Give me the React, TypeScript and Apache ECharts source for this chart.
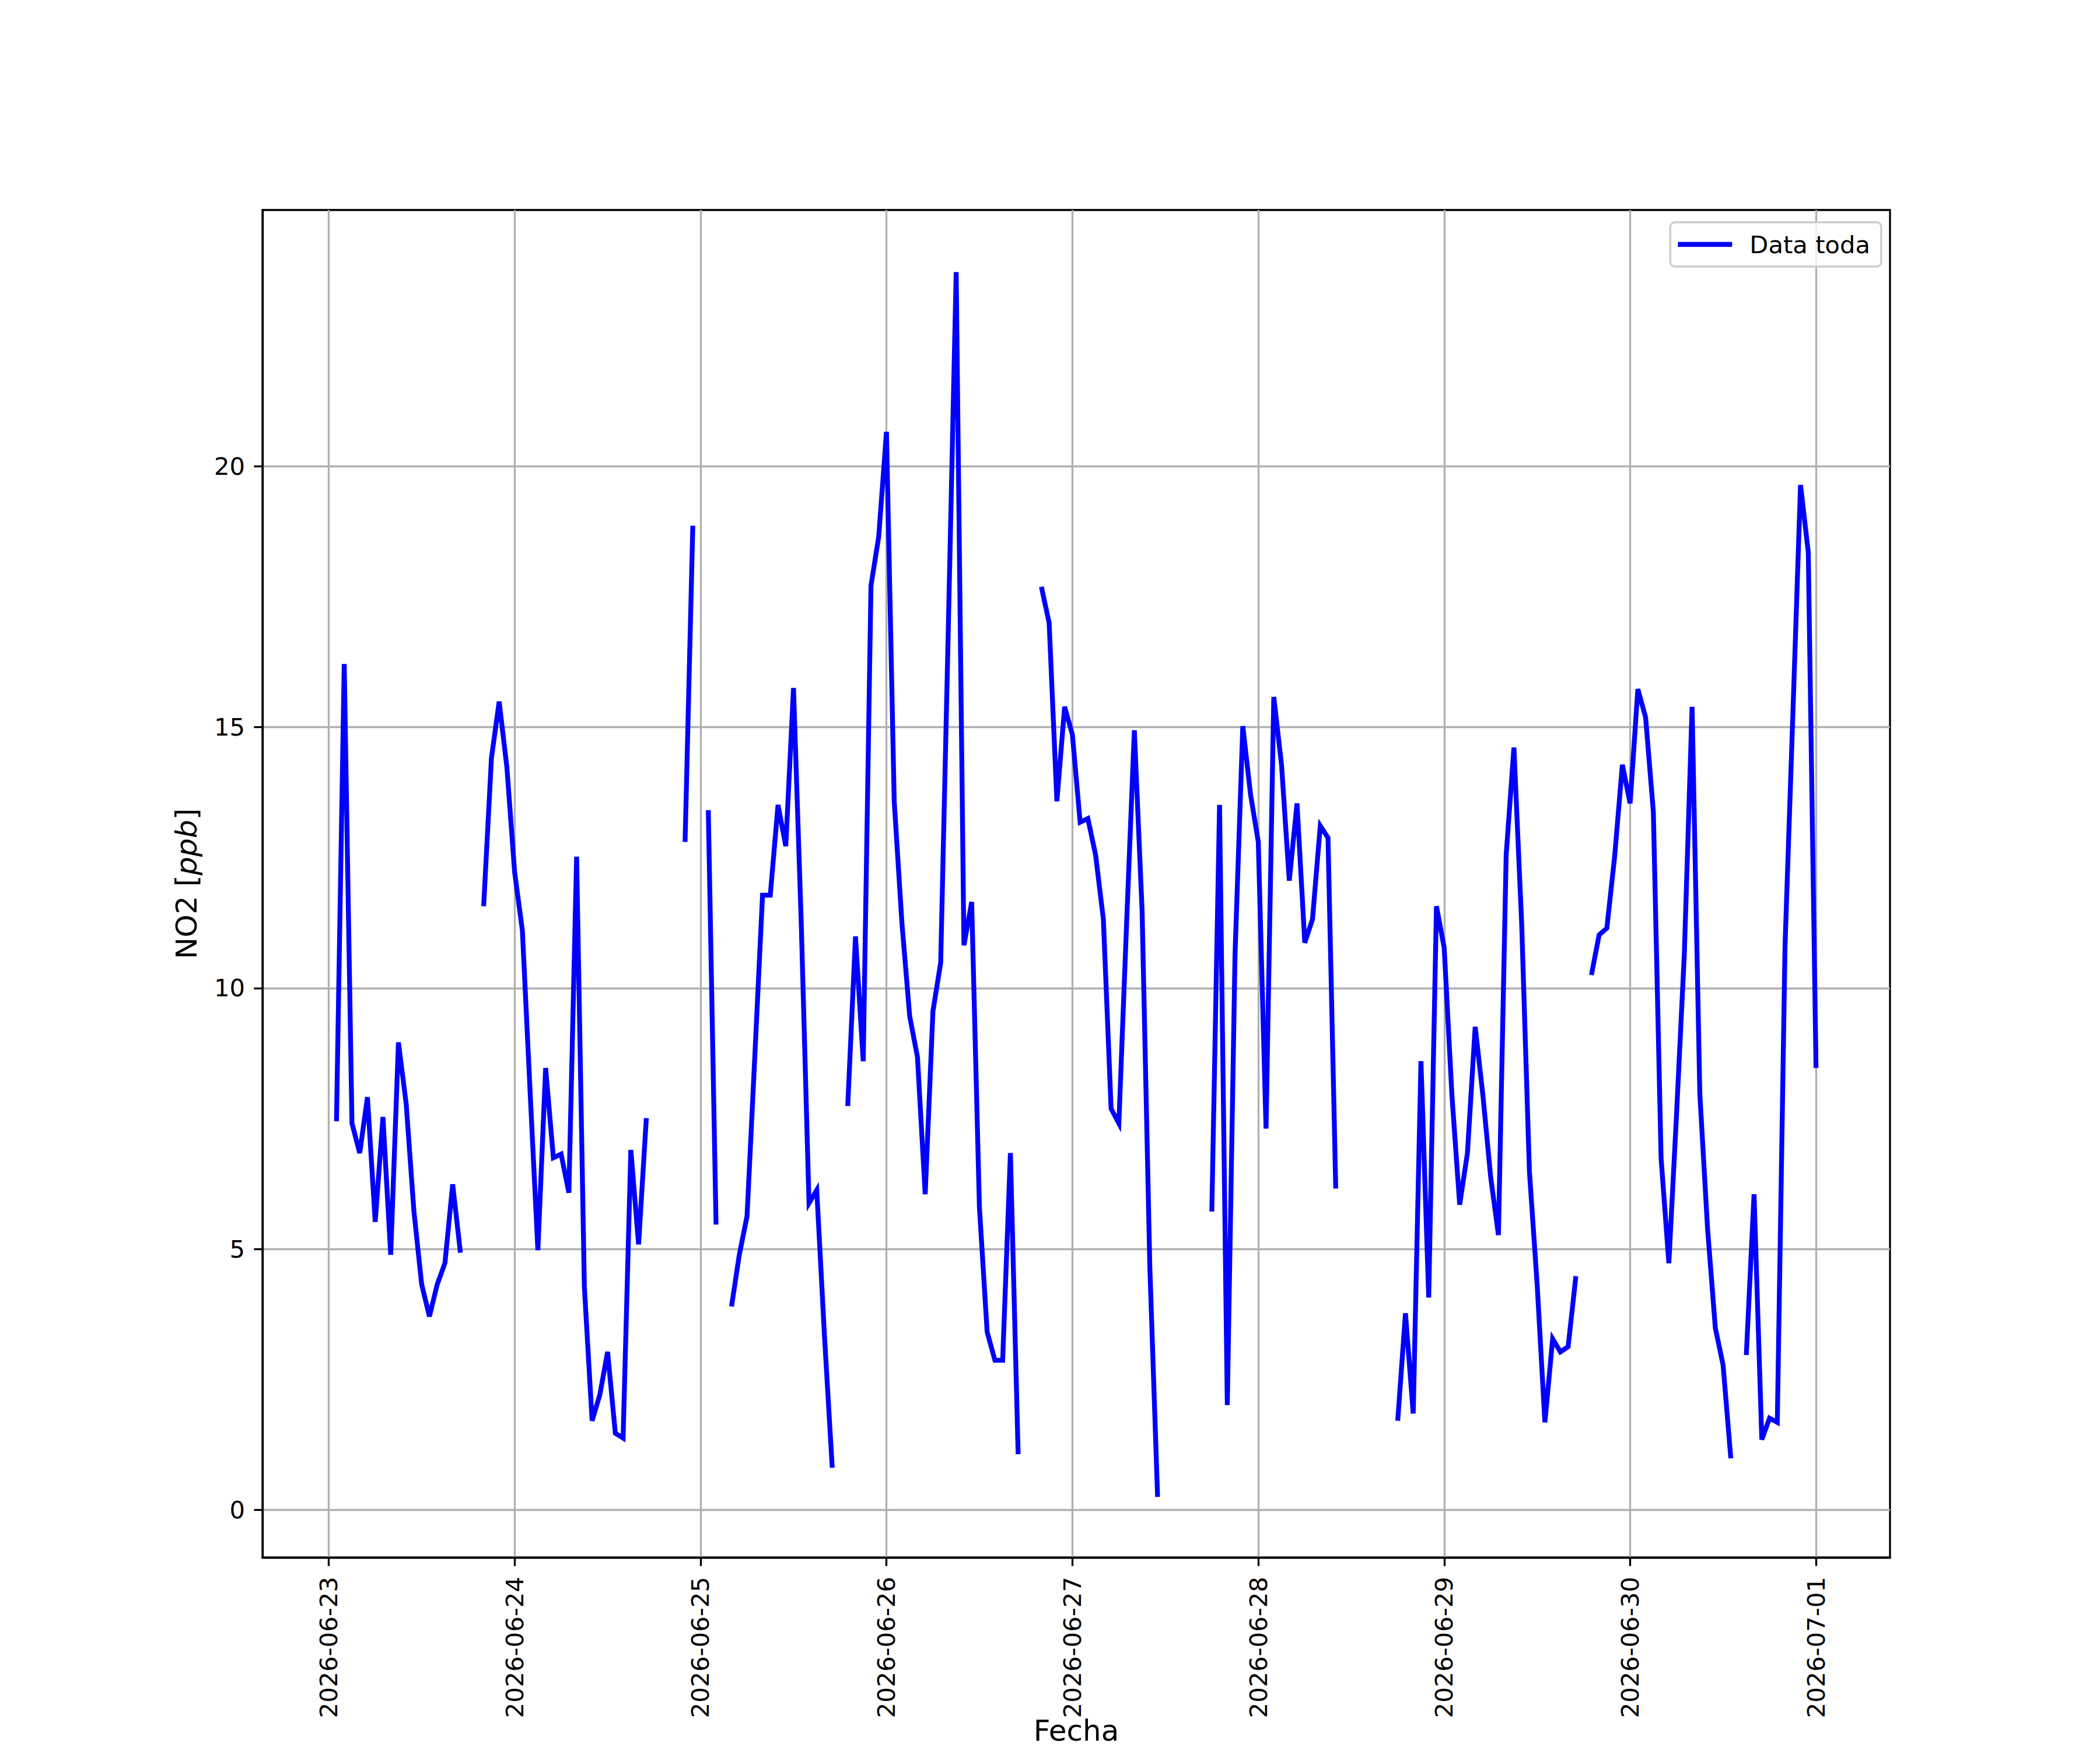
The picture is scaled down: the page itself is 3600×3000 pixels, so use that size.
import React, { useEffect, useRef } from "react";
import * as echarts from "echarts";

// Tick labels (one per day, at midnight)
const DAY_LABELS = [
  "2026-06-23", "2026-06-24", "2026-06-25", "2026-06-26", "2026-06-27",
  "2026-06-28", "2026-06-29", "2026-06-30", "2026-07-01",
];
const Y_TICKS = [0, 5, 10, 15, 20];

// Hourly NO2 values (ppb), hour 0..23 of each day; null = missing
const no2_0623 = [null, 7.45, 16.21, 7.41, 6.84, 7.91, 5.52, 7.53, 4.89, 8.96, 7.78, 5.72, 4.32, 3.71, 4.32, 4.73, 6.24, 4.93, null, null, 11.57, 14.4, 15.49, 14.23];
const no2_0624 = [12.22, 11.1, 8.0, 4.98, 8.47, 6.75, 6.82, 6.08, 12.52, 4.28, 1.71, 2.21, 3.03, 1.47, 1.38, 6.9, 5.09, 7.51, null, null, null, null, 12.8, 18.86];
const no2_0625 = [null, 13.41, 5.47, null, 3.9, 4.89, 5.63, 8.68, 11.78, 11.78, 13.51, 12.72, 15.75, 11.24, 5.88, 6.13, 3.33, 0.81, null, 7.74, 10.99, 8.6, 17.71, 18.65];
const no2_0626 = [20.66, 13.58, 11.24, 9.46, 8.68, 6.05, 9.56, 10.49, 17.0, 23.72, 10.82, 11.65, 5.8, 3.41, 2.87, 2.87, 6.84, 1.07, null, null, 17.69, 17.0, 13.58, 15.39];
const no2_0627 = [14.86, 13.18, 13.25, 12.55, 11.32, 7.69, 7.41, 11.24, 14.94, 11.48, 4.65, 0.25, null, null, null, null, null, null, 5.72, 13.51, 2.01, 10.66, 15.02, 13.71];
const no2_0628 = [12.8, 7.31, 15.58, 14.28, 12.06, 13.54, 10.87, 11.32, 13.11, 12.88, 6.16, null, null, null, null, null, null, null, 1.71, 3.77, 1.85, 8.6, 4.07, 11.57];
const no2_0629 = [10.77, 7.94, 5.85, 6.84, 9.26, 7.94, 6.38, 5.27, 12.55, 14.61, 11.24, 6.49, 4.32, 1.68, 3.28, 3.03, 3.13, 4.48, null, 10.25, 11.02, 11.15, 12.52, 14.28];
const no2_0630 = [13.54, 15.73, 15.19, 13.38, 6.74, 4.73, 7.6, 10.66, 15.39, 7.97, 5.39, 3.49, 2.78, 0.99, null, 2.97, 6.05, 1.35, 1.76, 1.68, 10.82, 15.2, 19.64, 18.35];
const no2_0701 = [8.47];

const DAYS = [no2_0623, no2_0624, no2_0625, no2_0626, no2_0627, no2_0628, no2_0629, no2_0630, no2_0701];

const FONT = "DejaVu Sans";

export default function App() {
  const ref = useRef<HTMLDivElement>(null);

  useEffect(() => {
    if (!ref.current) return;
    const chart = echarts.init(ref.current, undefined, { renderer: "svg" });

    const data: any[] = [];
    DAYS.forEach((day, d) => {
      day.forEach((v, h) => {
        data.push([d * 24 + h, v === null ? null : v]);
      });
    });
    const xTicks = DAY_LABELS.map((_, i) => i * 24);

    chart.setOption({
      animation: false,
      backgroundColor: "#ffffff",
      grid: {
        left: 450,
        right: 360,
        top: 360,
        bottom: 330,
        containLabel: false,
        outerBoundsMode: "none",
        show: true,
        borderColor: "#000000",
        borderWidth: 3.3,
        backgroundColor: "transparent",
      },
      legend: {
        right: 375,
        top: 381,
        itemWidth: 93,
        itemHeight: 8.3,
        icon: "rect",
        padding: [14, 19, 14, 13],
        borderColor: "#cccccc",
        borderWidth: 3.3,
        borderRadius: 8,
        backgroundColor: "rgba(255,255,255,0.8)",
        textStyle: {
          fontSize: 41.7,
          fontFamily: FONT,
          color: "#000000",
          padding: [0, 0, 0, 25],
          lineHeight: 48,
        },
        data: ["Data toda"],
      },
      xAxis: {
        type: "value",
        min: -8.55,
        max: 201.55,
        name: "Fecha",
        nameLocation: "middle",
        nameGap: 278,
        nameMoveOverlap: false,
        nameTextStyle: { fontSize: 50, lineHeight: 38, fontFamily: FONT, color: "#000000" },
        axisLine: { show: true, onZero: false, lineStyle: { color: "#000000", width: 3.3 } },
        axisTick: {
          show: true,
          customValues: xTicks,
          length: 14.6,
          lineStyle: { color: "#000000", width: 3.3 },
        },
        axisLabel: {
          customValues: xTicks,
          rotate: 90,
          margin: 33,
          fontSize: 41.7,
          fontFamily: FONT,
          color: "#000000",
          formatter: (v: number) => DAY_LABELS[Math.round(v / 24)] ?? "",
        },
        splitLine: { show: true, lineStyle: { color: "#b0b0b0", width: 3.3 } },
      },
      yAxis: {
        type: "value",
        min: -0.91,
        max: 24.91,
        name: "NO2 [{i|ppb}]",
        nameLocation: "middle",
        nameRotate: 90,
        nameGap: 105,
        nameMoveOverlap: false,
        nameTextStyle: {
          fontSize: 50,
          fontFamily: FONT,
          color: "#000000",
          rich: { i: { fontSize: 50, fontFamily: FONT, fontStyle: "italic", color: "#000000" } },
        },
        axisLine: { show: true, onZero: false, lineStyle: { color: "#000000", width: 3.3 } },
        axisTick: {
          show: true,
          customValues: Y_TICKS,
          length: 14.6,
          lineStyle: { color: "#000000", width: 3.3 },
        },
        axisLabel: {
          customValues: Y_TICKS,
          margin: 30,
          fontSize: 41.7,
          fontFamily: FONT,
          color: "#000000",
        },
        splitLine: { show: true, lineStyle: { color: "#b0b0b0", width: 3.3 } },
      },
      series: [
        {
          name: "Data toda",
          type: "line",
          data,
          showSymbol: false,
          connectNulls: false,
          color: "#0000ff",
          lineStyle: { color: "#0000ff", width: 8.3, cap: "butt", join: "miter" },
          itemStyle: { color: "#0000ff" },
          emphasis: { disabled: true },
        },
      ],
    });

    return () => chart.dispose();
  }, []);

  return (
    <div
      ref={ref}
      style={{ position: "absolute", left: 0, top: 0, width: 3600, height: 3000 }}
    />
  );
}
